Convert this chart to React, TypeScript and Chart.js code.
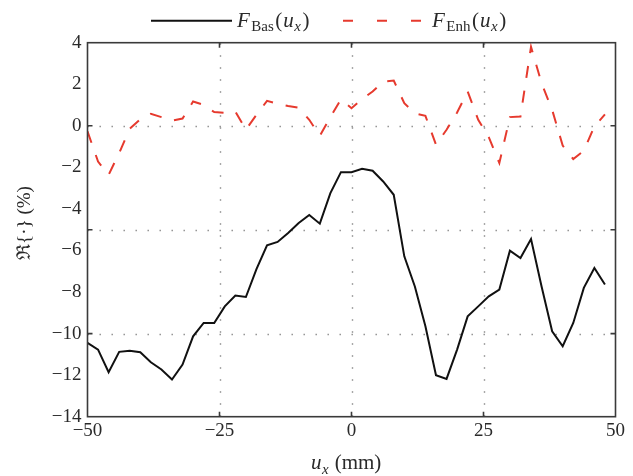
import React, { useEffect, useRef } from "react";
import { Chart, registerables } from "chart.js";

Chart.register(...registerables);

// ---- data ----
const X_MM = [
  -50, -48, -46, -44, -42, -40, -38, -36, -34, -32, -30, -28, -26, -24, -22, -20, -18, -16, -14, -12, -10, -8, -6, -4, -2,
  0, 2, 4, 6, 8, 10, 12, 14, 16, 18, 20, 22, 24, 26, 28, 30, 32, 34, 36, 38, 40, 42, 44, 46, 48,
];
const F_BAS = [
  -10.45, -10.77, -11.86, -10.88, -10.83, -10.9, -11.38, -11.73, -12.21, -11.49, -10.13, -9.49, -9.49, -8.69, -8.17,
  -8.24, -6.9, -5.75, -5.59, -5.16, -4.68, -4.29, -4.71, -3.24, -2.23,
  -2.23, -2.07, -2.16, -2.68, -3.32, -6.28, -7.73, -9.65, -12.0, -12.18, -10.77, -9.17, -8.69, -8.21, -7.88, -6.01,
  -6.36, -5.45, -7.73, -9.89, -10.61, -9.49, -7.8, -6.84, -7.64,
];
const F_ENH = [
  -0.27, -1.72, -2.36, -1.31, -0.14, 0.32, 0.58, 0.42, 0.25, 0.35, 1.17, 1.01, 0.66, 0.62, 0.69, -0.19, 0.53, 1.2,
  1.06, 0.95, 0.87, 0.29, -0.48, 0.42, 1.28,
  0.85, 1.28, 1.65, 2.13, 2.18, 1.09, 0.6, 0.48, -0.91, -0.19, 0.64, 1.65, 0.29, -0.55, -1.79, 0.42, 0.45, 3.8, 2.05,
  0.77, -0.95, -1.6, -1.2, -0.03, 0.55,
];
const X_TICKS = [-50, -25, 0, 25, 50];
const Y_TICKS = [4, 2, 0, -2, -4, -6, -8, -10, -12, -14];
const GRID_X = [-25, 0, 25];
const GRID_Y = [0, -5, -10];

const SERIF = '"Liberation Serif", "DejaVu Serif", serif';
const AXIS_COLOR = "#3a3a3a";
const TEXT_COLOR = "#2a2a2a";
const RED = "#e63a2e";

const fmt = (v: number) => (v < 0 ? "\u2212" + Math.abs(v) : String(v));

type Part = { t: string; italic?: boolean; sub?: boolean; gap?: number };

function drawRich(ctx: CanvasRenderingContext2D, x: number, y: number, parts: Part[], size: number) {
  let cx = x;
  ctx.textAlign = "left";
  ctx.textBaseline = "alphabetic";
  ctx.fillStyle = TEXT_COLOR;
  for (const p of parts) {
    const fs = p.sub ? Math.round(size * 0.72) : size;
    ctx.font = `${p.italic ? "italic " : ""}${fs}px ${SERIF}`;
    ctx.fillText(p.t, cx, y + (p.sub ? size * 0.22 : 0));
    cx += ctx.measureText(p.t).width + (p.gap || 0);
  }
}

const framePlugin = {
  id: "frame",
  beforeDatasetsDraw(chart: any) {
    const { ctx, chartArea, scales } = chart;
    const { left, right, top, bottom } = chartArea;
    ctx.save();
    ctx.strokeStyle = "#8c8c8c";
    ctx.lineWidth = 1.4;
    ctx.setLineDash([1.4, 10.6]);
    for (const v of GRID_X) {
      const px = Math.round(scales.x.getPixelForValue(v)) + 0.5;
      ctx.beginPath();
      ctx.moveTo(px, bottom);
      ctx.lineTo(px, top);
      ctx.stroke();
    }
    for (const v of GRID_Y) {
      const py = Math.round(scales.y.getPixelForValue(v)) + 0.5;
      ctx.beginPath();
      ctx.moveTo(left, py);
      ctx.lineTo(right, py);
      ctx.stroke();
    }
    ctx.restore();
  },
  afterDatasetsDraw(chart: any) {
    const { ctx, chartArea, scales } = chart;
    const { left, right, top, bottom } = chartArea;
    ctx.save();
    ctx.strokeStyle = AXIS_COLOR;
    ctx.lineWidth = 1.6;
    ctx.strokeRect(left, top, right - left, bottom - top);
    const tl = 5;
    ctx.beginPath();
    for (const v of GRID_X) {
      const px = scales.x.getPixelForValue(v);
      ctx.moveTo(px, bottom);
      ctx.lineTo(px, bottom - tl);
      ctx.moveTo(px, top);
      ctx.lineTo(px, top + tl);
    }
    for (const v of GRID_Y) {
      const py = scales.y.getPixelForValue(v);
      ctx.moveTo(left, py);
      ctx.lineTo(left + tl, py);
      ctx.moveTo(right, py);
      ctx.lineTo(right - tl, py);
    }
    ctx.stroke();
    ctx.restore();
  },
  afterDraw(chart: any) {
    const { ctx } = chart;
    ctx.save();
    // legend
    const ly = 20.7;
    ctx.lineWidth = 2;
    ctx.strokeStyle = "#111";
    ctx.beginPath();
    ctx.moveTo(151, ly);
    ctx.lineTo(232, ly);
    ctx.stroke();
    const legendParts = (sub: string): Part[] => [
      { t: "F", italic: true, gap: 1.5 },
      { t: sub, sub: true, gap: 1.5 },
      { t: "(", gap: 1 },
      { t: "u", italic: true, gap: 0.5 },
      { t: "x", italic: true, sub: true, gap: 1.5 },
      { t: ")" },
    ];
    drawRich(ctx, 237, 26.5, legendParts("Bas"), 21);
    ctx.strokeStyle = RED;
    ctx.setLineDash([10, 24]);
    ctx.beginPath();
    ctx.moveTo(343, ly);
    ctx.lineTo(423, ly);
    ctx.stroke();
    ctx.setLineDash([]);
    drawRich(ctx, 432, 26.5, legendParts("Enh"), 21);
    // x title
    drawRich(
      ctx,
      311,
      469,
      [
        { t: "u", italic: true, gap: 0.5 },
        { t: "x", italic: true, sub: true, gap: 6 },
        { t: "(mm)" },
      ],
      21
    );
    // y title
    ctx.translate(25, 223);
    ctx.rotate(-Math.PI / 2);
    ctx.textAlign = "center";
    ctx.textBaseline = "middle";
    ctx.fillStyle = TEXT_COLOR;
    ctx.font = `19px ${SERIF}`;
    ctx.fillText("\u211C{\u00B7} (%)", 0, 0);
    ctx.restore();
  },
};

export default function App() {
  const ref = useRef<HTMLCanvasElement | null>(null);

  useEffect(() => {
    document.body.style.margin = "0";
    document.body.style.overflow = "hidden";
    const canvas = ref.current;
    if (!canvas) return;
    const tickFont = { family: SERIF, size: 19 };
    const chart = new Chart(canvas, {
      type: "line",
      data: {
        datasets: [
          {
            label: "F_Bas(u_x)",
            data: X_MM.map((x, i) => ({ x, y: F_BAS[i] })),
            borderColor: "#111",
            borderWidth: 2,
            pointRadius: 0,
            tension: 0,
            fill: false,
          },
          {
            label: "F_Enh(u_x)",
            data: X_MM.map((x, i) => ({ x, y: F_ENH[i] })),
            borderColor: RED,
            borderWidth: 2,
            borderDash: [12, 13],
            pointRadius: 0,
            tension: 0,
            fill: false,
          },
        ],
      },
      options: {
        responsive: false,
        animation: false,
        devicePixelRatio: 1,
        layout: { padding: { top: 42.7, right: 17.5, left: 0, bottom: 0 } },
        plugins: { legend: { display: false }, tooltip: { enabled: false }, title: { display: false } },
        scales: {
          x: {
            type: "linear",
            min: -50,
            max: 50,
            afterBuildTicks: (s: any) => {
              s.ticks = X_TICKS.map((v) => ({ value: v }));
            },
            afterFit: (s: any) => {
              s.height = 476 - 416.7;
            },
            ticks: { callback: (v: any) => fmt(Number(v)), font: tickFont, color: TEXT_COLOR, padding: 3, maxRotation: 0 },
            grid: { display: false, drawTicks: false, tickLength: 0 },
            border: { display: false },
          },
          y: {
            type: "linear",
            min: -14,
            max: 4,
            afterBuildTicks: (s: any) => {
              s.ticks = Y_TICKS.map((v) => ({ value: v }));
            },
            afterFit: (s: any) => {
              s.width = 87.5;
            },
            ticks: { callback: (v: any) => fmt(Number(v)), font: tickFont, color: TEXT_COLOR, padding: 6 },
            grid: { display: false, drawTicks: false, tickLength: 0 },
            border: { display: false },
          },
        },
      },
      plugins: [framePlugin],
    } as any);
    return () => chart.destroy();
  }, []);

  return <canvas ref={ref} width={633} height={476} style={{ display: "block" }} />;
}
